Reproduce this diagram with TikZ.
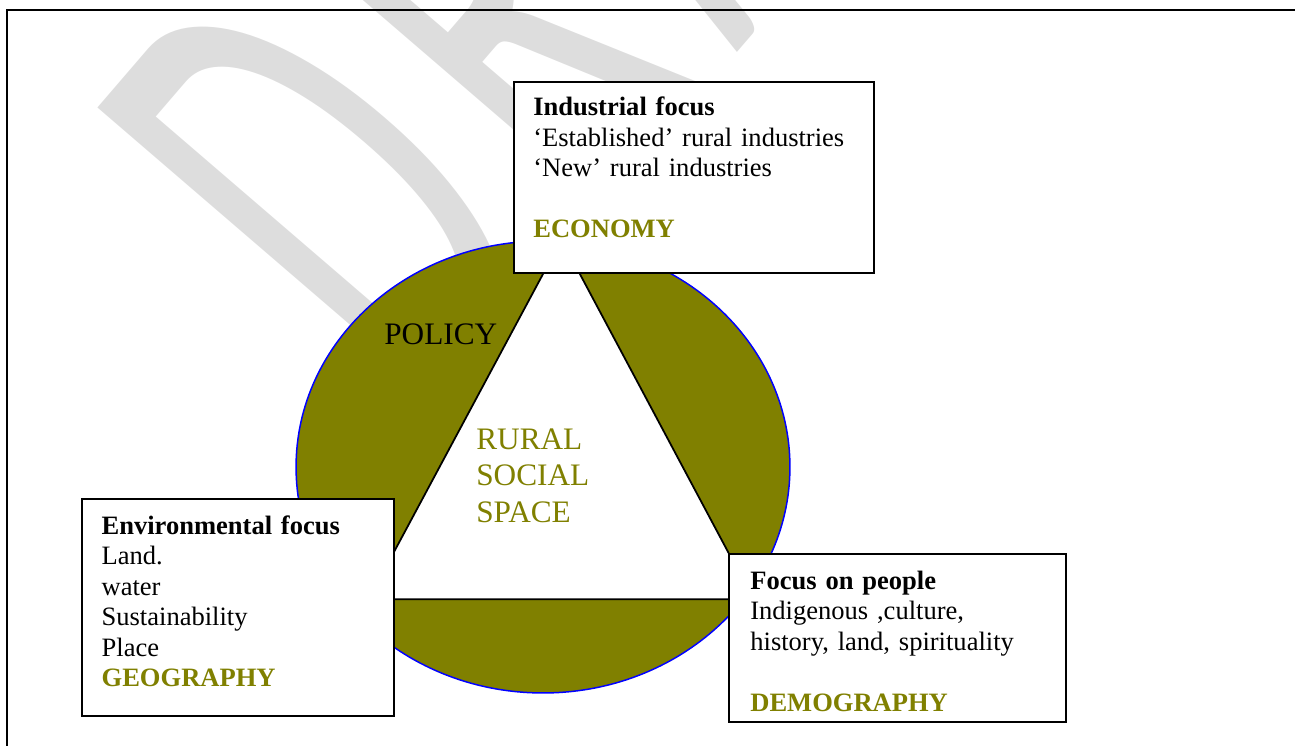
\documentclass[tikz,border=0pt]{standalone}
\usepackage{fontspec}
\setmainfont{Liberation Serif}
\newfontfamily\wmfont{Carlito}[LetterSpace=11]
\usepackage{graphicx}
\definecolor{olivefill}{HTML}{808000}
\definecolor{olivetext}{HTML}{808000}
\definecolor{wmgray}{HTML}{DDDDDD}
\definecolor{rimblue}{HTML}{0000FF}
\tikzset{
  frameline/.style={line width=1.2pt, black},
  focusbox/.style={draw=black, line width=1.1pt, fill=white, rectangle,
    inner sep=0pt, anchor=north west},
  boxtext/.style={anchor=base west, inner sep=0pt, text width=#1, align=left,
    font=\fontsize{15.1}{17.4}\selectfont},
  bigtext/.style={anchor=base west, inner sep=0pt,
    font=\fontsize{17.8}{20.9}\selectfont},
}
\begin{document}
\begin{tikzpicture}[x=0.02cm, y=-0.02cm]
\useasboundingbox (0,0) rectangle (1295,745);
\begin{scope}
\clip (0,0) rectangle (1295,745);

% faint diagonal stamp behind everything
\node[anchor=north west, rotate=49.3, inner sep=0pt, text=wmgray] (stamp) at (82,126)
  {\scalebox{1}[2.0]{\wmfont\fontsize{199}{199}\selectfont DRAFT}};

% page frame
\draw[frameline] (1300,10) -- (7,10) -- (7,750);

% the ring of policy
\draw[draw=rimblue, line width=0.85pt, fill=olivefill]
  (543,467) ellipse [x radius=4.94cm, y radius=4.52cm];

% rural social space triangle
\coordinate (apex) at (561.5,239.5);
\coordinate (baseL) at (368.6,599.3);
\coordinate (baseR) at (753.3,599.3);
\draw[fill=white, line width=1pt, line join=miter] (apex) -- (baseL) -- (baseR) -- cycle;

\node[bigtext] (policy) at (384,344) {POLICY};
\node[bigtext, text=olivetext, text width=3cm, align=left] (rss) at (476,449)
  {RURAL\\ SOCIAL\\ SPACE};

% the three focus boxes
\node[focusbox, minimum width=7.2cm, minimum height=3.82cm] (industry) at (513,81) {};
\node[boxtext=6.8cm] (industrytext) at (533,115.7)
  {\textbf{Industrial focus}\\
   ‘Established’ rural industries\\
   ‘New’ rural industries\\[\baselineskip]
   \textcolor{olivetext}{\textbf{ECONOMY}}};

\node[focusbox, minimum width=6.24cm, minimum height=4.34cm] (environment) at (81,498) {};
\node[boxtext=5.9cm] (environmenttext) at (101.3,534)
  {\textbf{Environmental focus}\\
   Land.\\
   water\\
   Sustainability\\
   Place\\
   \textcolor{olivetext}{\textbf{GEOGRAPHY}}};

\node[focusbox, minimum width=6.75cm, minimum height=3.37cm] (people) at (728,552.7) {};
\node[boxtext=6.3cm] (peopletext) at (750,589.3)
  {\textbf{Focus on people}\\
   Indigenous ,culture,\\
   history, land, spirituality\\[\baselineskip]
   \textcolor{olivetext}{\textbf{DEMOGRAPHY}}};
\end{scope}
\end{tikzpicture}
\end{document}
